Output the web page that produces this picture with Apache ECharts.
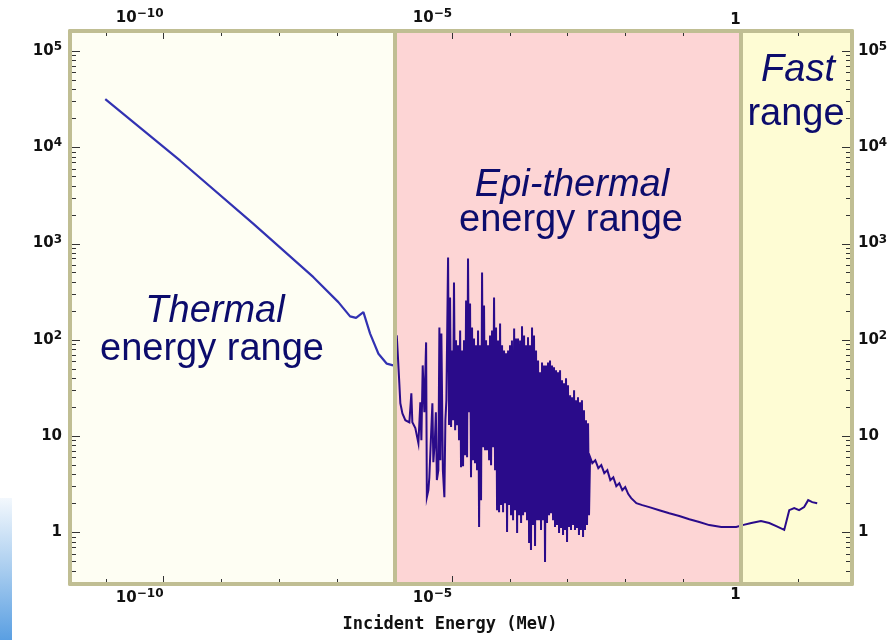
<!DOCTYPE html>
<html>
<head>
<meta charset="utf-8">
<script src="https://cdn.jsdelivr.net/npm/echarts@6/dist/echarts.min.js"></script>
<style>
  html, body { margin: 0; padding: 0; background: #ffffff; }
  #chart { width: 893px; height: 640px; }
</style>
</head>
<body>
<div id="chart"></div>
<script>
// Neutron cross section against incident energy (MeV), log-log, split in three energy ranges.

// Thermal range: smooth 1/v fall with a small bump
const thermalEnergy = [9.8e-12, 1.95e-10, 3.62e-9, 3.96e-8, 1.07e-7, 1.71e-7, 2.17e-7, 2.91e-7, 3.80e-7, 5.30e-7, 7.40e-7, 9.51e-7];
const thermalXS = [31600, 7240, 1600, 447, 246, 175, 169, 194, 116, 71.7, 56.5, 54.2];

// Epi-thermal range: resolved resonances
const resonanceEnergy = [
  1.10e-6, 1.13e-6, 1.22e-6, 1.27e-6, 1.38e-6, 1.55e-6, 1.82e-6, 1.97e-6, 2.05e-6, 2.31e-6,
  2.61e-6, 2.82e-6, 2.94e-6, 3.10e-6, 3.31e-6, 3.55e-6, 3.66e-6, 3.89e-6, 4.04e-6, 4.29e-6,
  4.56e-6, 4.74e-6, 5.04e-6, 5.24e-6, 5.45e-6, 5.79e-6, 6.03e-6, 6.27e-6, 6.53e-6, 6.93e-6,
  7.36e-6, 7.66e-6, 7.97e-6,
  8.53e-6, 8.87e-6, 9.23e-6, 9.61e-6,
  1.00e-5, 1.04e-5, 1.08e-5, 1.13e-5, 1.17e-5, 1.22e-5, 1.27e-5, 1.32e-5, 1.38e-5, 1.43e-5,
  1.49e-5, 1.55e-5, 1.61e-5, 1.68e-5, 1.75e-5, 1.82e-5, 1.89e-5, 1.97e-5, 2.05e-5, 2.13e-5,
  2.22e-5, 2.31e-5, 2.40e-5, 2.50e-5, 2.60e-5, 2.71e-5, 2.82e-5, 2.94e-5, 3.06e-5, 3.18e-5,
  3.31e-5, 3.44e-5, 3.58e-5, 3.73e-5, 3.88e-5, 4.04e-5, 4.20e-5, 4.38e-5, 4.55e-5, 4.74e-5,
  4.93e-5, 5.13e-5, 5.34e-5, 5.56e-5, 5.78e-5, 6.02e-5, 6.27e-5, 6.52e-5, 6.79e-5, 7.06e-5,
  7.35e-5, 7.65e-5, 7.96e-5, 8.28e-5, 8.62e-5, 8.97e-5, 9.34e-5, 9.72e-5,
  1.01e-4, 1.05e-4, 1.09e-4, 1.14e-4, 1.19e-4, 1.23e-4, 1.28e-4, 1.34e-4, 1.39e-4, 1.45e-4,
  1.51e-4, 1.57e-4, 1.63e-4, 1.70e-4, 1.77e-4, 1.84e-4, 1.91e-4, 1.99e-4, 2.07e-4, 2.16e-4,
  2.24e-4, 2.33e-4, 2.43e-4, 2.53e-4, 2.63e-4, 2.74e-4, 2.85e-4, 2.97e-4, 3.09e-4, 3.21e-4,
  3.34e-4, 3.48e-4, 3.62e-4, 3.77e-4, 3.92e-4, 4.08e-4, 4.25e-4, 4.42e-4, 4.60e-4, 4.79e-4,
  4.98e-4, 5.19e-4, 5.40e-4, 5.62e-4, 5.84e-4, 6.08e-4, 6.33e-4, 6.59e-4, 6.86e-4, 7.14e-4,
  7.43e-4, 7.73e-4, 8.04e-4, 8.37e-4, 8.71e-4, 9.06e-4, 9.43e-4, 9.82e-4,
  1.02e-3, 1.06e-3, 1.11e-3, 1.15e-3, 1.20e-3, 1.25e-3, 1.30e-3, 1.35e-3, 1.40e-3, 1.46e-3,
  1.52e-3, 1.58e-3, 1.65e-3, 1.71e-3, 1.78e-3, 1.86e-3, 1.93e-3, 2.01e-3, 2.09e-3, 2.18e-3,
  2.27e-3, 2.36e-3
];
const resonanceXS = [
  111, 83.4, 35.3, 21.9, 17.2, 14.6, 13.9, 27.8, 13.9, 12.1,
  8.43, 22.4, 9.06, 54.2, 17.7, 94.0, 2.32, 2.74, 3.74, 9.06,
  21.9, 5.36, 9.06, 17.7, 3.49, 4.43, 134, 5.62, 116, 4.43,
  2.32, 14.6, 23.5,
  714, 13.0, 275, 12.4,
  77.6, 14.6, 394, 11.5, 98.6, 13.0, 87.5, 9.06, 125, 4.75,
  77.6, 4.87, 98.6, 6.33, 256, 6.04, 698, 17.7, 238, 3.74,
  134, 5.62, 103, 5.23, 87.5, 4.43, 125, 1.14, 87.5, 2.16,
  499, 7.66, 227, 7.13, 98.6, 7.13, 87.5, 5.62, 111, 4.99,
  125, 7.66, 275, 4.43, 134, 1.70, 98.6, 1.62, 148, 1.92,
  87.5, 1.62, 77.6, 2.01, 72.3, 1.01, 77.6, 1.92,
  87.5, 1.51, 98.6, 1.34, 131, 1.70, 103, 0.984, 103, 1.51,
  98.6, 1.25, 138, 1.51, 111, 1.62, 87.5, 1.34, 106, 0.775,
  87.5, 0.655, 134, 1.19, 111, 0.721, 77.6, 1.34, 61.1, 1.34,
  45.9, 1.06, 58.2, 1.34, 54.2, 0.492, 54.2, 1.25, 58.2, 1.51,
  61.1, 1.58, 54.2, 1.34, 51.7, 1.14, 48.2, 1.19, 45.9, 0.984,
  48.2, 1.11, 37.9, 0.938, 35.3, 1.06, 39.8, 0.793,
  33.7, 1.14, 26.5, 1.06, 25.3, 1.19, 29.9, 1.06, 23.5, 1.11,
  25.3, 0.938, 22.4, 1.06, 23.5, 0.894, 18.5, 1.06, 14.6, 1.19,
  13.6, 1.51
];

// Unresolved continuum and fast range
const fastEnergy = [
  2.46e-3, 2.69e-3, 3.03e-3, 3.42e-3, 3.85e-3, 4.34e-3, 4.90e-3, 5.52e-3, 6.22e-3, 7.01e-3,
  7.90e-3, 8.91e-3, 1.00e-2, 1.13e-2, 1.27e-2, 1.56e-2, 1.98e-2, 2.61e-2, 3.89e-2, 5.80e-2,
  8.64e-2, 0.129, 0.192, 0.286, 0.461, 0.839, 1.08, 1.53, 2.25, 3.13,
  4.14, 5.69, 6.16, 6.95, 8.48, 10.3, 12.6, 14.8, 17.4, 21.2
];
const fastXS = [
  6.04, 5.23, 5.62, 4.64, 4.99, 4.12, 4.43, 3.49, 3.74, 3.02,
  3.24, 2.74, 2.95, 2.50, 2.27, 2.01, 1.92, 1.83, 1.70, 1.58,
  1.48, 1.37, 1.28, 1.19, 1.14, 1.14, 1.19, 1.25, 1.31, 1.25,
  1.16, 1.06, 1.11, 1.70, 1.79, 1.70, 1.83, 2.16, 2.06, 2.01
];

// Axis extents and ticks (MeV, barns)
const energyExtent = [2.4e-12, 85];
const xsExtent = [0.291, 1.61e5];
const energyLabelTicks = [1e-10, 1e-5, 1];
const xsLabelTicks = [1, 10, 100, 1e3, 1e4, 1e5];
const rangeBounds = [1e-6, 1];
const rangeColors = ['#fefef3', '#fdd5d5', '#fefcd4'];
const rangeTexts = [['Thermal', 'energy range'], ['Epi-thermal', 'energy range'], ['Fast', 'range']];
const axisTitle = 'Incident Energy (MeV)';

const lg = Math.log10;
const toPairs = (E, S) => E.map((e, i) => [lg(e), lg(S[i])]);

const xMin = lg(energyExtent[0]), xMax = lg(energyExtent[1]);
const yMin = lg(xsExtent[0]), yMax = lg(xsExtent[1]);

// every decade on the energy axis
const xDecades = [];
for (let n = Math.ceil(xMin); n <= Math.floor(xMax); n++) xDecades.push(n);
const xLabelVals = energyLabelTicks.map(lg);

// 2..9 sub-ticks on the cross-section axis
const yMinor = [];
for (let n = Math.floor(yMin); n <= Math.ceil(yMax); n++) {
  for (let m = 2; m <= 9; m++) {
    const v = n + lg(m);
    if (v >= yMin && v <= yMax) yMinor.push(v);
  }
}
const yLabelVals = xsLabelTicks.map(lg);

const frameColor = '#c0be93';
const tickColor = '#333333';
const inkBlue = '#0c0c6c';

function powerLabel(v) {
  const n = Math.round(v);
  if (n === 0) return '{b|1}';
  if (n === 1) return '{b|10}';
  return '{b|10}{s|' + (n < 0 ? '\u2212' + (-n) : String(n)) + '}';
}
const labelRich = {
  b: { fontFamily: 'DejaVu Sans', fontWeight: 'bold', fontSize: 15, color: '#111111' },
  s: { fontFamily: 'DejaVu Sans', fontWeight: 'bold', fontSize: 12, color: '#111111', padding: [0, 0, 8, 0] }
};

function xAxisDef(position) {
  return {
    type: 'value', position: position, min: xMin, max: xMax, z: 10,
    axisLine: { show: true, onZero: false, lineStyle: { color: frameColor, width: 4 } },
    axisTick: { show: false },
    axisLabel: { show: true, customValues: xLabelVals, formatter: powerLabel, rich: labelRich,
      align: 'right', margin: position === 'top' ? 3 : 4 },
    splitLine: { show: false }
  };
}
function yAxisDef(position) {
  return {
    type: 'value', position: position, min: yMin, max: yMax, z: 10,
    axisLine: { show: true, onZero: false, lineStyle: { color: frameColor, width: 4 } },
    axisTick: { show: false },
    axisLabel: { show: true, customValues: yLabelVals, formatter: powerLabel, rich: labelRich,
      margin: position === 'left' ? 8 : 6 },
    splitLine: { show: false }
  };
}

const xAxes = [xAxisDef('bottom'), xAxisDef('top')];
Object.assign(xAxes[0], {
  name: axisTitle, nameLocation: 'middle', nameGap: 32, nameMoveOverlap: false,
  nameTextStyle: { fontFamily: 'DejaVu Sans Mono', fontWeight: 'bold', fontSize: 17, color: '#111111', padding: [0, 22, 0, 0] }
});
const yAxes = [yAxisDef('left'), yAxisDef('right')];

// tick marks on all four sides: [axis value, 0 = energy axis / 1 = cross-section axis, long tick?]
const tickItems = []
  .concat(xDecades.map(v => [v, 0, 0]))
  .concat(xLabelVals.map(v => [v, 0, 1]))
  .concat(yMinor.map(v => [v, 1, 0]))
  .concat(yLabelVals.map(v => [v, 1, 1]));
const tickLen = { x: [5, 8], y: [6, 10] };

function renderTick(params, api) {
  const v = api.value(0), side = api.value(1), major = api.value(2);
  const segs = [];
  const px = (p) => Math.round(p) + 0.5;
  if (side === 0) {
    const len = tickLen.x[major];
    const b = api.coord([v, yMin]), t = api.coord([v, yMax]);
    segs.push([px(b[0]), b[1], px(b[0]), b[1] - len]);
    segs.push([px(t[0]), t[1], px(t[0]), t[1] + len]);
  } else {
    const len = tickLen.y[major];
    const l = api.coord([xMin, v]), r = api.coord([xMax, v]);
    segs.push([l[0], px(l[1]), l[0] + len, px(l[1])]);
    segs.push([r[0], px(r[1]), r[0] - len, px(r[1])]);
  }
  return {
    type: 'group',
    children: segs.map(s => ({
      type: 'line', shape: { x1: s[0], y1: s[1], x2: s[2], y2: s[3] },
      style: { stroke: tickColor, lineWidth: 1 }
    }))
  };
}

const bounds = rangeBounds.map(lg);
const areaEdges = [xMin, bounds[0], bounds[1], xMax];

const textFont = (italic) => (italic ? 'italic ' : '') + '38px "Liberation Sans", Arial, sans-serif';
const textPlaces = [
  [[215, 311], [212, 350]],
  [[572, 185], [571, 221]],
  [[798, 70], [796, 115]]
];
const graphicTexts = [];
rangeTexts.forEach((lines, r) => {
  lines.forEach((t, i) => {
    graphicTexts.push({
      type: 'text', x: textPlaces[r][i][0], y: textPlaces[r][i][1], z: 20, silent: true,
      style: { text: t, font: textFont(i === 0), fill: inkBlue, align: 'center', verticalAlign: 'middle' }
    });
  });
});

const chart = echarts.init(document.getElementById('chart'), null, { renderer: 'canvas' });
chart.setOption({
  animation: false,
  backgroundColor: '#ffffff',
  grid: { left: 70, right: 41, top: 31, bottom: 56, containLabel: false, outerBoundsMode: 'none', show: false },
  xAxis: xAxes,
  yAxis: yAxes,
  graphic: [
    {
      type: 'rect', left: 0, top: 498, z: 0, silent: true,
      shape: { width: 12, height: 142 },
      style: { fill: new echarts.graphic.LinearGradient(0, 0, 0, 1, [
        { offset: 0, color: '#f3f8fd' }, { offset: 0.5, color: '#a9cdef' }, { offset: 1, color: '#5a9fe2' }
      ]) }
    }
  ].concat(graphicTexts),
  series: [
    {
      name: 'ranges', type: 'line', data: [], z: 1, silent: true,
      markArea: {
        silent: true,
        data: rangeColors.map((c, i) => [
          { xAxis: areaEdges[i], itemStyle: { color: c } },
          { xAxis: areaEdges[i + 1] }
        ])
      }
    },
    {
      name: 'ticks', type: 'custom', z: 4, silent: true, clip: false,
      encode: { x: 0, y: 1 },
      data: tickItems,
      renderItem: renderTick
    },
    {
      name: 'thermal', type: 'line', z: 3, showSymbol: false, symbol: 'none', clip: true,
      data: toPairs(thermalEnergy, thermalXS),
      lineStyle: { color: '#3232b2', width: 2.2 }
    },
    {
      name: 'resonance', type: 'line', z: 3, showSymbol: false, symbol: 'none', clip: true,
      data: toPairs(resonanceEnergy, resonanceXS).concat(toPairs(fastEnergy, fastXS)),
      lineStyle: { color: '#2a0b8a', width: 2, join: 'miter' }
    },
    {
      name: 'bounds', type: 'line', data: [], z: 5, silent: true,
      markLine: {
        silent: true, symbol: 'none', label: { show: false },
        lineStyle: { color: frameColor, width: 4, type: 'solid' },
        data: bounds.map(b => ({ xAxis: b }))
      }
    }
  ]
});
</script>
</body>
</html>
